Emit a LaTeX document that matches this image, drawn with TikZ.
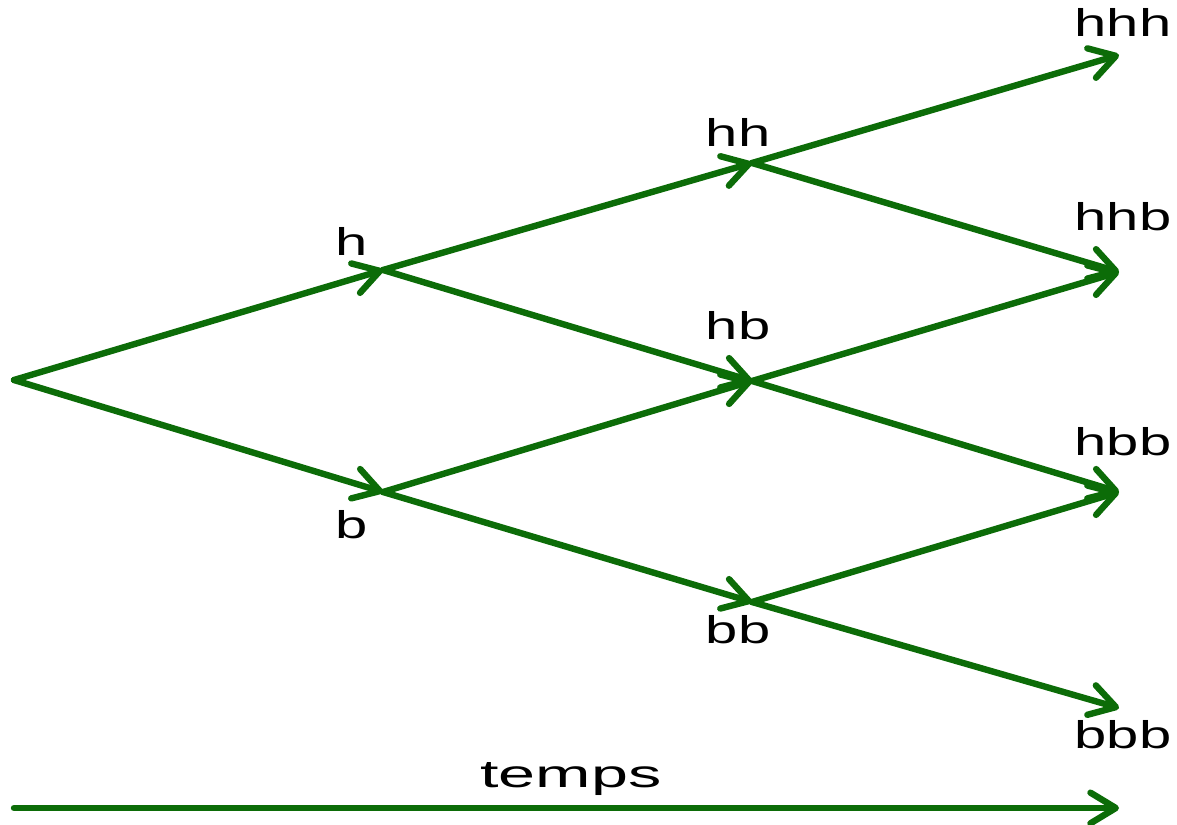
\documentclass[tikz,border=0pt]{standalone}
\usepackage{fontspec}
\setmainfont{Liberation Sans}
\usetikzlibrary{arrows.meta}
\definecolor{treegreen}{RGB}{12,108,8}
\tikzset{
  branch/.style={draw=treegreen, line width=4.8pt, line cap=round, line join=round,
    -{Straight Barb[length=19pt, width=23pt, line cap=round, line join=round]}},
  lbl/.style={anchor=base, inner sep=0pt, text=black,
    font=\fontsize{29}{33}\selectfont}
}
\newcommand{\wide}[2][1.5]{\scalebox{#1}[1]{#2}}
\begin{document}
\begin{tikzpicture}[x=0.75pt, y=-0.75pt]
\useasboundingbox (0,0) rectangle (1177,824);
% tree points
\coordinate (root) at (14,380);
\coordinate (h) at (383,270);
\coordinate (b) at (383,492);
\coordinate (hh) at (752,163);
\coordinate (hb) at (752,381);
\coordinate (bb) at (752,602);
\coordinate (hhh) at (1119,55);
\coordinate (hhb) at (1119,272);
\coordinate (hbb) at (1119,492);
\coordinate (bbb) at (1119,708);
\coordinate (t0) at (14,808);
\coordinate (t1) at (1119,808);
% connectors
\draw[branch] (root) -- (h);
\draw[branch] (root) -- (b);
\draw[branch] (h) -- (hh);
\draw[branch] (h) -- (hb);
\draw[branch] (b) -- (hb);
\draw[branch] (b) -- (bb);
\draw[branch] (hh) -- (hhh);
\draw[branch] (hh) -- (hhb);
\draw[branch] (hb) -- (hhb);
\draw[branch] (hb) -- (hbb);
\draw[branch] (bb) -- (hbb);
\draw[branch] (bb) -- (bbb);
\draw[branch] (t0) -- (t1);
% labels
\node[lbl] (lh) at (352,255) {\wide{h}};
\node[lbl] (lb) at (352,538) {\wide{b}};
\node[lbl] (lhh) at (738,146) {\wide{hh}};
\node[lbl] (lhb) at (738,339) {\wide{hb}};
\node[lbl] (lbb) at (738,643) {\wide{bb}};
\node[lbl] (lhhh) at (1123,37) {\wide{hhh}};
\node[lbl] (lhhb) at (1123,230) {\wide{hhb}};
\node[lbl] (lhbb) at (1123,455) {\wide{hbb}};
\node[lbl] (lbbb) at (1123,748) {\wide{bbb}};
\node[lbl] (ltemps) at (571,787) {\wide[1.72]{temps}};
\end{tikzpicture}
\end{document}
